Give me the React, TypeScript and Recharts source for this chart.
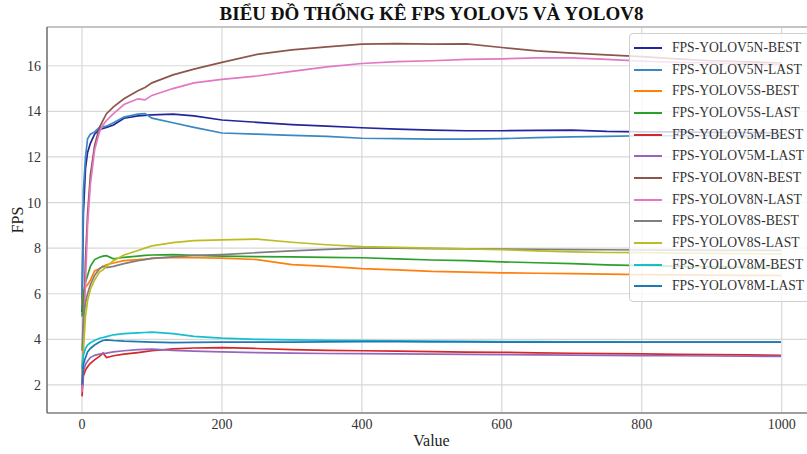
import { LineChart, Line, XAxis, YAxis, CartesianGrid, ReferenceLine } from "recharts";

const SERIF = '"Liberation Serif", "DejaVu Serif", serif';

const xs = [0, 2, 5, 8, 12, 18, 25, 30, 35, 45, 60, 80, 90, 100, 130, 160, 200, 250, 300, 350, 400, 450, 500, 550, 600, 650, 700, 750, 800, 850, 900, 950, 999];

const v5nBest = [5.2, 9.5, 11.5, 12.2, 12.6, 13.0, 13.2, 13.25, 13.3, 13.4, 13.7, 13.8, 13.82, 13.85, 13.88, 13.8, 13.62, 13.52, 13.42, 13.35, 13.28, 13.22, 13.18, 13.15, 13.15, 13.17, 13.18, 13.12, 13.1, 13.1, 13.08, 13.07, 13.06];
const v5nLast = [5.3, 10.5, 12.0, 12.8, 13.0, 13.1, 13.3, 13.32, 13.35, 13.5, 13.75, 13.88, 13.9, 13.7, 13.5, 13.3, 13.05, 13.0, 12.95, 12.9, 12.82, 12.8, 12.78, 12.78, 12.8, 12.85, 12.88, 12.9, 12.93, 12.93, 12.93, 12.92, 12.92];
const v5sBest = [5.5, 6.0, 6.3, 6.4, 6.6, 7.0, 7.1, 7.2, 7.27, 7.35, 7.45, 7.5, 7.52, 7.55, 7.6, 7.58, 7.56, 7.5, 7.28, 7.2, 7.1, 7.05, 6.98, 6.95, 6.92, 6.9, 6.88, 6.86, 6.84, 6.83, 6.82, 6.81, 6.8];
const v5sLast = [5.0, 6.0, 6.5, 6.8, 7.2, 7.5, 7.6, 7.65, 7.67, 7.53, 7.6, 7.65, 7.68, 7.7, 7.72, 7.68, 7.65, 7.63, 7.62, 7.6, 7.58, 7.53, 7.48, 7.45, 7.4, 7.36, 7.32, 7.27, 7.23, 7.2, 7.18, 7.16, 7.15];
const v5mBest = [1.5, 2.4, 2.65, 2.8, 2.95, 3.1, 3.25, 3.4, 3.2, 3.28, 3.35, 3.42, 3.46, 3.5, 3.58, 3.62, 3.64, 3.6, 3.55, 3.52, 3.5, 3.48, 3.46, 3.44, 3.43, 3.41, 3.39, 3.37, 3.36, 3.34, 3.33, 3.32, 3.3];
const v5mLast = [1.7, 2.6, 2.9, 3.05, 3.2, 3.3, 3.35, 3.38, 3.4, 3.45, 3.5, 3.55, 3.56, 3.57, 3.52, 3.48, 3.45, 3.42, 3.4, 3.38, 3.37, 3.36, 3.35, 3.34, 3.33, 3.32, 3.31, 3.3, 3.29, 3.28, 3.27, 3.26, 3.25];
const v8nBest = [1.8, 4.5, 7.5, 9.5, 11.2, 12.5, 13.3, 13.6, 13.9, 14.2, 14.55, 14.9, 15.05, 15.25, 15.6, 15.85, 16.15, 16.5, 16.7, 16.83, 16.95, 16.97, 16.95, 16.96, 16.8, 16.65, 16.55, 16.48, 16.4, 16.3, 16.22, 16.17, 16.12];
const v8nLast = [1.7, 4.0, 6.5, 9.0, 10.8, 12.3, 13.1, 13.4, 13.6, 13.9, 14.3, 14.55, 14.5, 14.7, 15.0, 15.25, 15.4, 15.55, 15.75, 15.95, 16.1, 16.18, 16.22, 16.28, 16.3, 16.35, 16.35, 16.28, 16.2, 16.15, 16.12, 16.08, 16.05];
const v8sBest = [3.5, 5.0, 5.6, 6.0, 6.4, 6.8, 7.1, 7.2, 7.15, 7.2, 7.32, 7.45, 7.5, 7.55, 7.62, 7.68, 7.72, 7.8, 7.88, 7.95, 8.0, 8.0, 7.98, 7.97, 7.96, 7.95, 7.94, 7.93, 7.92, 7.91, 7.9, 7.9, 7.9];
const v8sLast = [2.6, 3.5, 5.0, 5.7, 6.2, 6.6, 6.95, 7.05, 7.2, 7.45, 7.7, 7.9, 8.0, 8.1, 8.24, 8.33, 8.36, 8.4, 8.26, 8.15, 8.07, 8.03, 8.0, 7.97, 7.93, 7.88, 7.84, 7.81, 7.8, 7.78, 7.77, 7.76, 7.75];
const v8mBest = [2.7, 3.3, 3.6, 3.75, 3.85, 3.95, 4.05, 4.08, 4.12, 4.2, 4.25, 4.28, 4.3, 4.32, 4.25, 4.13, 4.05, 4.0, 3.98, 3.96, 3.95, 3.94, 3.92, 3.91, 3.9, 3.9, 3.89, 3.89, 3.88, 3.88, 3.88, 3.88, 3.88];
const v8mLast = [2.0, 2.9, 3.2, 3.45, 3.6, 3.75, 3.88, 3.95, 3.98, 3.95, 3.92, 3.9, 3.89, 3.88, 3.86, 3.87, 3.88, 3.88, 3.88, 3.89, 3.9, 3.9, 3.89, 3.89, 3.88, 3.88, 3.88, 3.88, 3.88, 3.88, 3.88, 3.88, 3.88];

const xTicks = [0, 200, 400, 600, 800, 1000];
const yTicks = [2, 4, 6, 8, 10, 12, 14, 16];

const series = [
  { key: "v5nBest", name: "FPS-YOLOV5N-BEST", color: "#25259b", values: v5nBest },
  { key: "v5nLast", name: "FPS-YOLOV5N-LAST", color: "#3a87c3", values: v5nLast },
  { key: "v5sBest", name: "FPS-YOLOV5S-BEST", color: "#ff7f0e", values: v5sBest },
  { key: "v5sLast", name: "FPS-YOLOV5S-LAST", color: "#2ca02c", values: v5sLast },
  { key: "v5mBest", name: "FPS-YOLOV5M-BEST", color: "#d62728", values: v5mBest },
  { key: "v5mLast", name: "FPS-YOLOV5M-LAST", color: "#9467bd", values: v5mLast },
  { key: "v8nBest", name: "FPS-YOLOV8N-BEST", color: "#8c564b", values: v8nBest },
  { key: "v8nLast", name: "FPS-YOLOV8N-LAST", color: "#e377c2", values: v8nLast },
  { key: "v8sBest", name: "FPS-YOLOV8S-BEST", color: "#7f7f7f", values: v8sBest },
  { key: "v8sLast", name: "FPS-YOLOV8S-LAST", color: "#bcbd22", values: v8sLast },
  { key: "v8mBest", name: "FPS-YOLOV8M-BEST", color: "#17becf", values: v8mBest },
  { key: "v8mLast", name: "FPS-YOLOV8M-LAST", color: "#1f77b4", values: v8mLast },
];

const rows = xs.map((x, i) => {
  const row: Record<string, number> = { x };
  series.forEach((s) => {
    row[s.key] = s.values[i];
  });
  return row;
});

const tickStyle = { fill: "#333", fontSize: 14, fontFamily: SERIF };

export default function App() {
  return (
    <div
      style={{
        position: "absolute",
        left: 0,
        top: 0,
        width: 807,
        height: 454,
        overflow: "hidden",
        background: "#fff",
        fontFamily: SERIF,
      }}
    >
      <LineChart width={830} height={454} data={rows} margin={{ top: 27, right: 14, bottom: 11, left: 10 }}>
        <CartesianGrid stroke="#d8d8d8" strokeWidth={1.2} />
        <XAxis
          dataKey="x"
          type="number"
          domain={[-50, 1049]}
          ticks={xTicks}
          allowDataOverflow
          height={30}
          tick={tickStyle}
          tickLine={false}
          tickSize={4}
          axisLine={{ stroke: "#555", strokeWidth: 1.2 }}
        />
        <YAxis
          type="number"
          domain={[0.77, 17.7]}
          ticks={yTicks}
          allowDataOverflow
          width={37}
          tick={tickStyle}
          tickLine={false}
          tickSize={4}
          axisLine={{ stroke: "#555", strokeWidth: 1.2 }}
        />
        <ReferenceLine y={17.7} stroke="#c4c4c4" strokeWidth={2} />
        {series.map((s) => (
          <Line
            key={s.key}
            dataKey={s.key}
            name={s.name}
            stroke={s.color}
            strokeWidth={1.7}
            dot={false}
            type="linear"
            isAnimationActive={false}
          />
        ))}
      </LineChart>

      <div
        style={{
          position: "absolute",
          left: 0,
          top: 2,
          width: 863,
          textAlign: "center",
          fontSize: 19,
          fontWeight: "bold",
          lineHeight: "24px",
          color: "#111",
        }}
      >
        BIỂU ĐỒ THỐNG KÊ FPS YOLOV5 VÀ YOLOV8
      </div>

      <div
        style={{
          position: "absolute",
          left: 18,
          top: 220,
          transform: "translate(-50%, -50%) rotate(-90deg)",
          fontSize: 16,
          color: "#222",
          whiteSpace: "nowrap",
        }}
      >
        FPS
      </div>

      <div
        style={{
          position: "absolute",
          left: 0,
          top: 431,
          width: 863,
          textAlign: "center",
          fontSize: 16,
          lineHeight: "20px",
          color: "#222",
        }}
      >
        Value
      </div>

      <div
        style={{
          position: "absolute",
          left: 629,
          top: 33,
          width: 200,
          padding: "3px 0 4px 0",
          background: "rgba(255,255,255,0.8)",
          border: "1px solid #d0d0d0",
          borderRadius: 4,
        }}
      >
        {series.map((s) => (
          <div key={s.key} style={{ display: "flex", alignItems: "center", height: 21.7 }}>
            <div style={{ width: 28, height: 2, background: s.color, marginLeft: 4, marginRight: 10 }} />
            <span style={{ fontSize: 13.6, color: "#333", whiteSpace: "nowrap" }}>{s.name}</span>
          </div>
        ))}
      </div>
    </div>
  );
}
